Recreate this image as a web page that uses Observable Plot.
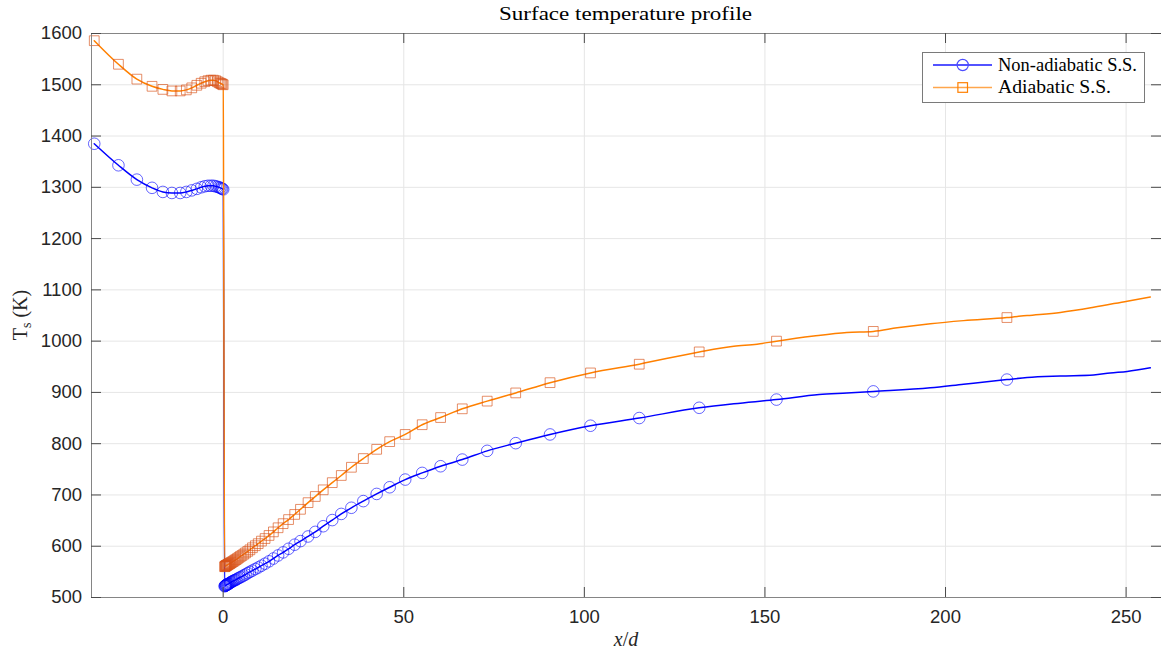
<!DOCTYPE html>
<html>
<head>
<meta charset="utf-8">
<script src="https://cdn.jsdelivr.net/npm/d3@7"></script>
<script src="https://cdn.jsdelivr.net/npm/@observablehq/plot@0.6"></script>
<style>
  html, body { margin: 0; padding: 0; background: #ffffff; }
  #chart { width: 1161px; height: 657px; overflow: hidden; }
</style>
</head>
<body>
<div id="chart"></div>
<script>
// ---------- Data ----------
const title = "Surface temperature profile";
const seriesNames = ["Non-adiabatic S.S.", "Adiabatic S.S."];

const xTicks = [0, 50, 100, 150, 200, 250];
const yTicks = [500, 600, 700, 800, 900, 1000, 1100, 1200, 1300, 1400, 1500, 1600];

// marker stations (x/d), upstream and downstream of the step
const markerX = [
  -35.7, -29.0, -23.9, -19.7, -16.7, -14.2, -11.9, -10.2, -8.7, -7.3, -6.1, -5.1, -4.2, -3.4, -2.7, -2.1, -1.6, -1.15, -0.8, -0.5, -0.25, 0,
  0.4, 0.5, 0.6, 0.7, 0.8, 0.9, 1.0, 1.15, 1.3, 1.45, 1.6, 1.8, 2.0, 2.2, 2.45, 2.7, 3.0, 3.3, 3.6, 3.95, 4.35, 4.75, 5.2, 5.7, 6.2, 6.8, 7.4, 8.1, 8.9, 9.7,
  10.6, 11.6, 12.7, 13.9, 15.2, 16.6, 18.1, 19.8, 21.4, 23.5, 25.5, 27.7, 30.2, 32.7, 35.5, 38.8, 42.5, 46.1, 50.4,
  55.1, 60.2, 66.2, 73.1, 81.0, 90.5, 101.7, 115.2, 131.8, 153.2, 180.0, 217.0
];

// Non-adiabatic surface temperature at marker stations (K)
const nonAdiabaticT = [
  1385, 1343, 1315, 1299, 1291, 1289, 1289, 1291, 1294, 1297, 1300, 1302, 1303, 1303, 1303, 1302, 1301, 1300, 1299, 1298, 1297, 1296,
  522, 522.5, 523, 523.5, 524, 524.5, 525, 525.5, 526, 526.5, 527, 528, 529, 530, 531, 532, 533, 534, 535, 536.5, 538, 539.5, 541, 543, 545, 547.5, 550, 552.5, 555.5, 558.5,
  562, 566, 570.5, 576, 582, 588, 595, 603, 610, 619, 628, 639, 651, 663, 675, 688, 702, 715, 730,
  743, 756, 769, 786, 801, 818, 835, 850, 870, 886, 902, 925
];

// Adiabatic surface temperature at marker stations (K)
const adiabaticT = [
  1586, 1540, 1511, 1497, 1491, 1488, 1488, 1490, 1494, 1499, 1503, 1506, 1508, 1509, 1509, 1508, 1506, 1504, 1503, 1502, 1501, 1500,
  560, 560.5, 561, 561.5, 562, 562.5, 563, 563.5, 564, 565, 565.5, 566, 567, 568, 569, 570, 571.5, 573, 574, 576, 578, 580, 582, 584.5, 587, 590, 593, 597, 601, 605,
  610, 615, 621, 628, 636, 644, 652, 662, 672, 685, 697, 710, 724, 738, 754, 771, 789, 804, 818,
  837, 851, 868, 883, 899, 919, 938, 955, 979, 1000, 1019, 1046
];

// additional curve-only points (no marker) on the downstream part
const nonAdiabaticExtraX = [141.4, 165.0, 172.7, 195.8, 205.0, 222.6, 231.8, 241.0, 245.6, 250.3, 256.7];
const nonAdiabaticExtraT = [878, 896, 899, 909, 916, 929, 932, 934, 938, 941, 948];
const adiabaticExtraX = [141.4, 147.8, 163.5, 172.7, 186.6, 195.8, 205.0, 222.6, 231.8, 241.0, 250.3, 256.7];
const adiabaticExtraT = [990, 994, 1010, 1017, 1026, 1034, 1040, 1050, 1056, 1066, 1078, 1086];

// ---------- Build tables ----------
const naMarkers = markerX.map((x, i) => ({x, t: nonAdiabaticT[i]}));
const adMarkers = markerX.map((x, i) => ({x, t: adiabaticT[i]}));
const naLine = naMarkers.concat(nonAdiabaticExtraX.map((x, i) => ({x, t: nonAdiabaticExtraT[i]}))).sort((a, b) => a.x - b.x);
const adLine = adMarkers.concat(adiabaticExtraX.map((x, i) => ({x, t: adiabaticExtraT[i]}))).sort((a, b) => a.x - b.x);

// ---------- Styles ----------
const W = 1161, H = 657;
const mL = 91, mR = 0, mT = 33, mB = 60;
const innerW = W - mL - mR, innerH = H - mT - mB;
const tickLen = 10;
const blue = "#0000ff", orangeLine = "#ff8000", orangeMarker = "#d95319";
const tickFont = "Liberation Sans, Arial, Helvetica, sans-serif";
const serif = "Liberation Serif, Times New Roman, serif";

const chart = Plot.plot({
  width: W,
  height: H,
  marginLeft: mL,
  marginRight: mR,
  marginTop: mT,
  marginBottom: mB,
  style: {background: "#ffffff", fontFamily: tickFont, overflow: "hidden"},
  x: {domain: [-36.46, 259.8], label: null},
  y: {domain: [500, 1600], label: null},
  marks: [
    Plot.gridX(xTicks, {stroke: "#e6e6e6", strokeOpacity: 1}),
    Plot.gridY(yTicks, {stroke: "#e6e6e6", strokeOpacity: 1}),
    Plot.axisX(xTicks, {tickSize: 0, tickPadding: 12, fontSize: 18.5, fill: "#262626", tickFormat: d => String(d)}),
    Plot.axisY(yTicks, {tickSize: 0, tickPadding: 9.5, fontSize: 18.5, fill: "#262626", tickFormat: d => String(d)}),
    Plot.line(naLine, {x: "x", y: "t", stroke: blue, strokeWidth: 1.5, curve: "monotone-x"}),
    Plot.dot(naMarkers, {x: "x", y: "t", r: 5.8, stroke: blue, strokeOpacity: 0.6, strokeWidth: 1, fill: "none"}),
    Plot.line(adLine, {x: "x", y: "t", stroke: orangeLine, strokeWidth: 1.5, curve: "monotone-x"}),
    Plot.dot(adMarkers, {x: "x", y: "t", r: 5.5, symbol: "square", stroke: orangeMarker, strokeOpacity: 0.65, strokeWidth: 1, fill: "none"}),
    Plot.frame({stroke: "#858585", strokeWidth: 1}),
    // inward tick marks on all four sides
    Plot.tickX(xTicks, {x: d => d, stroke: "#4a4a4a", insetTop: innerH - tickLen}),
    Plot.tickX(xTicks, {x: d => d, stroke: "#4a4a4a", insetBottom: innerH - tickLen}),
    Plot.tickY(yTicks, {y: d => d, stroke: "#4a4a4a", insetRight: innerW - tickLen}),
    Plot.tickY(yTicks, {y: d => d, stroke: "#4a4a4a", insetLeft: innerW - tickLen})
  ]
});

document.getElementById("chart").appendChild(chart);

// ---------- Title, axis labels, legend ----------
const svg = d3.select(chart);
const cx = mL + innerW / 2;

svg.append("text")
  .attr("x", cx - 0.5).attr("y", 20)
  .attr("text-anchor", "middle")
  .attr("font-family", serif).attr("font-size", 19)
  .attr("fill", "#000")
  .attr("textLength", 253).attr("lengthAdjust", "spacingAndGlyphs")
  .text(title);

const xl = svg.append("text")
  .attr("x", cx).attr("y", 646)
  .attr("text-anchor", "middle")
  .attr("font-family", serif).attr("font-size", 20)
  .attr("fill", "#262626");
xl.append("tspan").attr("font-style", "italic").text("x");
xl.append("tspan").text("/");
xl.append("tspan").attr("font-style", "italic").text("d");

const yl = svg.append("text")
  .attr("transform", `translate(27,${mT + innerH / 2}) rotate(-90)`)
  .attr("text-anchor", "middle")
  .attr("font-family", serif).attr("font-size", 20)
  .attr("fill", "#262626");
yl.append("tspan").text("T");
yl.append("tspan").attr("font-size", 14).attr("dy", 4).text("s");
yl.append("tspan").attr("dy", -4).text(" (K)");

// legend
const lg = svg.append("g");
lg.append("rect")
  .attr("x", 922.5).attr("y", 52.5).attr("width", 222).attr("height", 50)
  .attr("fill", "#ffffff").attr("stroke", "#7a7a7a").attr("stroke-width", 1);
const rows = [
  {name: seriesNames[0], y: 65, line: "#1a1aff", mark: "#4d4dff", sym: "circle"},
  {name: seriesNames[1], y: 87.5, line: "#ffa64d", mark: "#ff8000", sym: "square"}
];
rows.forEach(r => {
  lg.append("line").attr("x1", 933).attr("x2", 992).attr("y1", r.y).attr("y2", r.y)
    .attr("stroke", r.line).attr("stroke-width", 1.5);
  if (r.sym === "circle") {
    lg.append("circle").attr("cx", 962.7).attr("cy", r.y).attr("r", 5.6)
      .attr("fill", "none").attr("stroke", r.mark).attr("stroke-width", 1.2);
  } else {
    lg.append("rect").attr("x", 962.7 - 4.8).attr("y", r.y - 4.8).attr("width", 9.6).attr("height", 9.6)
      .attr("fill", "none").attr("stroke", r.mark).attr("stroke-width", 1.2);
  }
  lg.append("text").attr("x", 998).attr("y", r.y + 5.5)
    .attr("text-anchor", "start")
    .attr("font-family", serif).attr("font-size", 18)
    .attr("fill", "#000")
    .attr("textLength", r.sym === "circle" ? 139 : 113).attr("lengthAdjust", "spacingAndGlyphs")
    .text(r.name);
});
</script>
</body>
</html>
